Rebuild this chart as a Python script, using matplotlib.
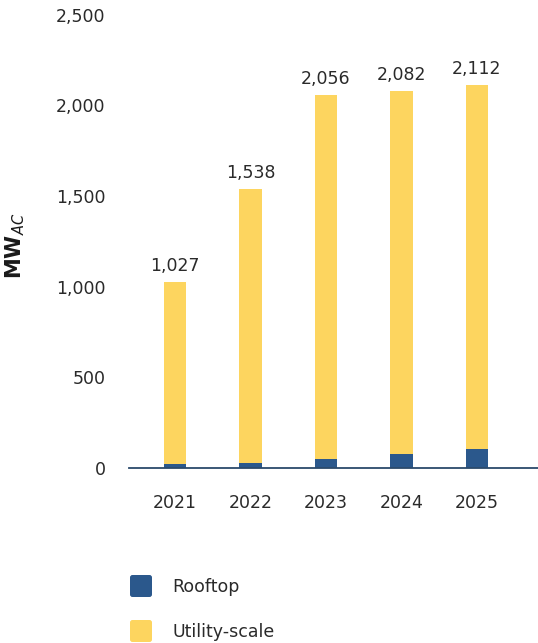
import matplotlib
matplotlib.use("Agg")
import matplotlib.pyplot as plt
from matplotlib.patches import FancyBboxPatch

years = ["2021", "2022", "2023", "2024", "2025"]
totals = [1027, 1538, 2056, 2082, 2112]
rooftop = [20, 29, 51, 77, 108]
utility = [t - r for t, r in zip(totals, rooftop)]
y_ticks = [0, 500, 1000, 1500, 2000, 2500]
series_names = ["Rooftop", "Utility-scale"]

BLUE = "#2B588C"
YELLOW = "#FDD55F"
TEXT = "#2a2a2a"

plt.rcParams["font.family"] = ["DejaVu Sans"]

W_PX, H_PX = 538, 643
fig = plt.figure(figsize=(W_PX / 100, H_PX / 100), dpi=100)
ax = fig.add_axes([0.24, 0.272, 0.76, 0.705])

x = list(range(len(years)))
w = 0.3
ax.bar(x, rooftop, width=w, color=BLUE, edgecolor="none", zorder=2)
ax.bar(x, utility, width=w, bottom=rooftop, color=YELLOW, edgecolor="none", zorder=2)

for xi, t in zip(x, totals):
    ax.annotate(f"{t:,}", (xi, t), xytext=(0, 5), textcoords="offset points",
                ha="center", va="bottom", fontsize=12.5, color=TEXT)

ax.set_xlim(-0.61, 4.81)
ax.set_ylim(0, 2500)
ax.set_xticks(x)
ax.set_xticklabels(years)
ax.set_yticks(y_ticks)
ax.set_yticklabels([f"{v:,}" for v in y_ticks])
ax.tick_params(axis="both", length=0, labelsize=12.5, colors=TEXT)
ax.tick_params(axis="x", pad=19)
ax.tick_params(axis="y", pad=17)

for side in ["top", "right", "left"]:
    ax.spines[side].set_visible(False)
ax.spines["bottom"].set_color("#2B4A6B")
ax.spines["bottom"].set_linewidth(1.3)
ax.spines["bottom"].set_zorder(3)

fig.text(0.028, 0.617, r"MW$_{\mathit{AC}}$", rotation=90, ha="center", va="center",
         fontsize=15, fontweight="bold", color="#1a1a1a")

# legend: rounded swatches with labels, positioned in pixels from the top-left
for i, (name, col) in enumerate(zip(series_names, [BLUE, YELLOW])):
    top = 575 + i * 45
    sw = FancyBboxPatch((130, H_PX - (top + 22)), 22, 22,
                        boxstyle="round,pad=0,rounding_size=2.5",
                        transform=None, facecolor=col, edgecolor="none")
    fig.patches.append(sw)
    fig.text(172 / W_PX, 1 - (top + 12) / H_PX, name, ha="left", va="center",
             fontsize=12.5, color=TEXT)

fig.savefig("out.png", dpi=100)
